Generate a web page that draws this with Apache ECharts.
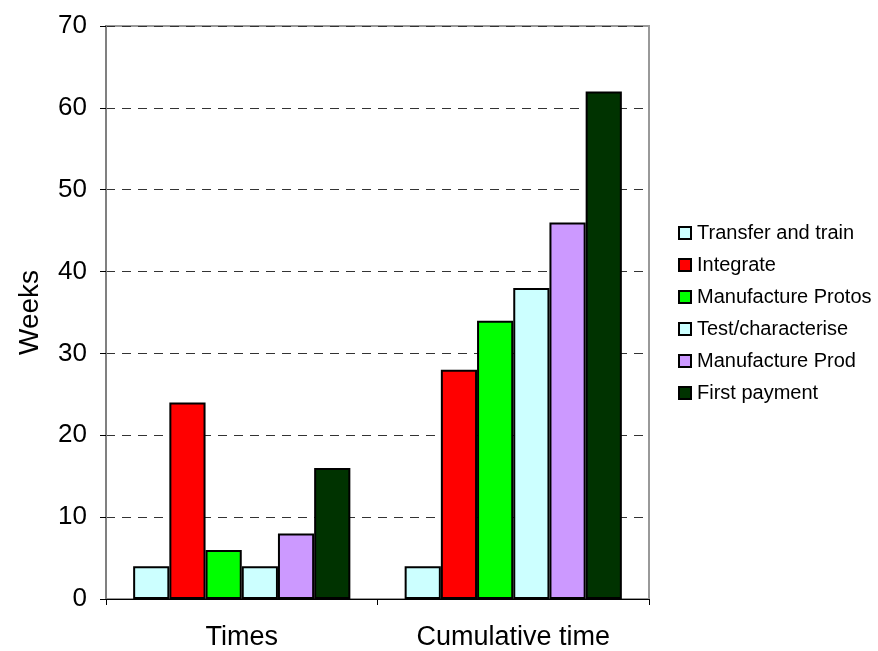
<!DOCTYPE html>
<html><head><meta charset="utf-8">
<script src="https://cdn.jsdelivr.net/npm/echarts@6/dist/echarts.min.js"></script>
<style>html,body{margin:0;padding:0;background:#fff}#c{width:878px;height:651px}</style>
</head><body><div id="c"></div>
<script>
const categories = ['Times', 'Cumulative time'];
const seriesNames = ['Transfer and train', 'Integrate', 'Manufacture Protos', 'Test/characterise', 'Manufacture Prod', 'First payment'];
const transferTrain = [4, 4];
const integrate = [24, 28];
const manufactureProtos = [6, 34];
const testCharacterise = [4, 38];
const manufactureProd = [8, 46];
const firstPayment = [16, 62];
const yTicks = [0, 10, 20, 30, 40, 50, 60, 70];
const colors = ['#CCFFFF', '#FF0000', '#00FF00', '#CCFFFF', '#CC99FF', '#003300'];

const values = [transferTrain, integrate, manufactureProtos, testCharacterise, manufactureProd, firstPayment];
const chart = echarts.init(document.getElementById('c'));
const font = 'Liberation Sans, Arial, sans-serif';
chart.setOption({
  animation: false,
  textStyle: {fontFamily: font},
  grid: {left: 106, right: 229, top: 26, bottom: 51, show: true, borderColor: '#999', borderWidth: 2, backgroundColor: 'transparent'},
  legend: {
    orient: 'vertical', left: 678, top: 223, padding: 0,
    itemWidth: 12, itemHeight: 12, itemGap: 12,
    icon: 'rect',
    itemStyle: {borderColor: '#000', borderWidth: 2},
    textStyle: {fontSize: 20, color: '#000', fontFamily: font, padding: [0, 0, 0, 1]},
    data: seriesNames
  },
  xAxis: {
    type: 'category', data: categories,
    axisLine: {lineStyle: {color: '#000', width: 1}},
    axisTick: {show: true, length: 6, lineStyle: {color: '#000'}},
    axisLabel: {fontSize: 27, color: '#000', margin: 25, fontFamily: font}
  },
  yAxis: {
    type: 'value', min: yTicks[0], max: yTicks[yTicks.length - 1], interval: 10,
    name: 'Weeks', nameLocation: 'middle', nameGap: 62, nameRotate: 90,
    nameTextStyle: {fontSize: 28, color: '#000', fontFamily: font},
    axisLine: {show: true, lineStyle: {color: '#808080', width: 2}},
    axisTick: {show: true, length: 6, lineStyle: {color: '#000'}},
    axisLabel: {fontSize: 26, color: '#000', margin: 19, fontFamily: font},
    splitLine: {show: true, lineStyle: {color: '#333', type: [9, 7], width: 1}}
  },
  series: seriesNames.map((n, i) => ({
    name: n, type: 'bar', data: values[i],
    barGap: '0%', barCategoryGap: '20%',
    itemStyle: {color: colors[i], borderColor: '#000', borderWidth: 2}
  }))
});
</script></body></html>
